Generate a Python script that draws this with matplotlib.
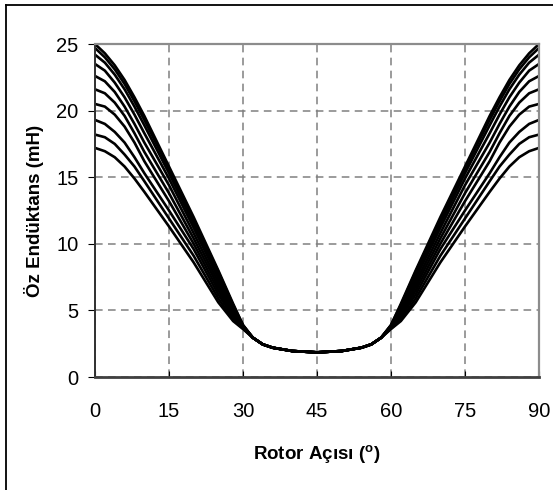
import matplotlib
matplotlib.use("Agg")
import matplotlib.pyplot as plt
from matplotlib.lines import Line2D

plt.rcParams['font.family'] = ['Liberation Sans', 'DejaVu Sans']

# rotor angle (deg)
angle = [0, 2, 4, 6, 8, 10, 15, 20, 25, 28, 30, 32, 34, 36, 40, 45,
         50, 54, 56, 58, 60, 62, 65, 70, 75, 80, 82, 84, 86, 88, 90]

# self inductance (mH), one list per current level
L1 = [25.0, 24.3, 23.4, 22.3, 21.0, 19.6, 15.8, 12.0, 8.0, 5.5, 3.9, 2.95, 2.45, 2.2, 1.95, 1.85,
      1.95, 2.2, 2.45, 2.95, 3.9, 5.5, 8.0, 12.0, 15.8, 19.6, 21.0, 22.3, 23.4, 24.3, 25.0]
L2 = [24.7, 24.0, 23.1, 22.0, 20.7, 19.3, 15.6, 11.8, 7.9, 5.4, 3.9, 2.95, 2.45, 2.2, 1.95, 1.85,
      1.95, 2.2, 2.45, 2.95, 3.9, 5.4, 7.9, 11.8, 15.6, 19.3, 20.7, 22.0, 23.1, 24.0, 24.7]
L3 = [24.2, 23.6, 22.7, 21.6, 20.3, 18.9, 15.3, 11.5, 7.7, 5.3, 3.85, 2.95, 2.45, 2.2, 1.95, 1.85,
      1.95, 2.2, 2.45, 2.95, 3.85, 5.3, 7.7, 11.5, 15.3, 18.9, 20.3, 21.6, 22.7, 23.6, 24.2]
L4 = [23.5, 23.0, 22.1, 21.0, 19.7, 18.3, 14.9, 11.2, 7.4, 5.1, 3.8, 2.95, 2.45, 2.2, 1.95, 1.85,
      1.95, 2.2, 2.45, 2.95, 3.8, 5.1, 7.4, 11.2, 14.9, 18.3, 19.7, 21.0, 22.1, 23.0, 23.5]
L5 = [22.6, 22.2, 21.4, 20.3, 19.0, 17.6, 14.4, 10.8, 7.1, 4.9, 3.8, 2.95, 2.45, 2.2, 1.95, 1.85,
      1.95, 2.2, 2.45, 2.95, 3.8, 4.9, 7.1, 10.8, 14.4, 17.6, 19.0, 20.3, 21.4, 22.2, 22.6]
L6 = [21.6, 21.3, 20.6, 19.6, 18.3, 16.9, 13.8, 10.4, 6.8, 4.7, 3.75, 2.95, 2.45, 2.2, 1.95, 1.85,
      1.95, 2.2, 2.45, 2.95, 3.75, 4.7, 6.8, 10.4, 13.8, 16.9, 18.3, 19.6, 20.6, 21.3, 21.6]
L7 = [20.5, 20.3, 19.7, 18.8, 17.6, 16.2, 13.2, 10.0, 6.5, 4.6, 3.7, 2.95, 2.45, 2.2, 1.95, 1.85,
      1.95, 2.2, 2.45, 2.95, 3.7, 4.6, 6.5, 10.0, 13.2, 16.2, 17.6, 18.8, 19.7, 20.3, 20.5]
L8 = [19.3, 19.0, 18.4, 17.6, 16.5, 15.3, 12.5, 9.6, 6.2, 4.5, 3.7, 2.95, 2.45, 2.2, 1.95, 1.85,
      1.95, 2.2, 2.45, 2.95, 3.7, 4.5, 6.2, 9.6, 12.5, 15.3, 16.5, 17.6, 18.4, 19.0, 19.3]
L9 = [18.2, 18.0, 17.5, 16.7, 15.8, 14.7, 11.9, 9.1, 5.9, 4.3, 3.65, 2.95, 2.45, 2.2, 1.95, 1.85,
      1.95, 2.2, 2.45, 2.95, 3.65, 4.3, 5.9, 9.1, 11.9, 14.7, 15.8, 16.7, 17.5, 18.0, 18.2]
L10 = [17.2, 16.95, 16.5, 15.8, 14.9, 13.9, 11.3, 8.6, 5.6, 4.2, 3.6, 2.95, 2.45, 2.2, 1.95, 1.85,
       1.95, 2.2, 2.45, 2.95, 3.6, 4.2, 5.6, 8.6, 11.3, 13.9, 14.9, 15.8, 16.5, 16.95, 17.2]
curves = [L1, L2, L3, L4, L5, L6, L7, L8, L9, L10]

x_ticks = [0, 15, 30, 45, 60, 75, 90]
y_ticks = [0, 5, 10, 15, 20, 25]

fig = plt.figure(figsize=(5.53, 4.90), dpi=100)
ax = fig.add_axes([95 / 553, 1 - 377 / 490, 444 / 553, 333 / 490])

for L in curves:
    ax.plot(angle, L, color='black', lw=1.9, solid_joinstyle='round')

ax.set_xlim(0, 90)
ax.set_ylim(0, 25)
ax.set_xticks(x_ticks)
ax.set_yticks(y_ticks)
ax.grid(True, color='#808080', linestyle=(0, (5, 3.5)), lw=1.1)
ax.set_axisbelow(True)

for side in ['top', 'right']:
    ax.spines[side].set_color('#8c8c8c')
    ax.spines[side].set_linewidth(1.6)
ax.spines['left'].set_color('#303030')
ax.spines['left'].set_linewidth(1.4)
ax.spines['bottom'].set_color('#404040')
ax.spines['bottom'].set_linewidth(2)

ax.tick_params(axis='x', direction='in', length=4, width=0.8, pad=18, labelsize=14.5)
ax.tick_params(axis='y', direction='out', length=5, width=0.8, pad=7, labelsize=14.5)

ax.set_xlabel(r'Rotor Açısı ($^{\mathregular{o}}$)', fontsize=13.5, fontweight='bold', labelpad=16)
ax.set_ylabel('Öz Endüktans (mH)', fontsize=13.5, fontweight='bold', labelpad=9)

# chart area border (left and top only, the rest is cropped)
fig.add_artist(Line2D([5.5 / 553, 5.5 / 553], [0, 1 - 5.5 / 490], color='black', lw=1.3))
fig.add_artist(Line2D([5.5 / 553, 1], [1 - 5.5 / 490, 1 - 5.5 / 490], color='black', lw=1.3))

fig.savefig('out.png', dpi=100)
